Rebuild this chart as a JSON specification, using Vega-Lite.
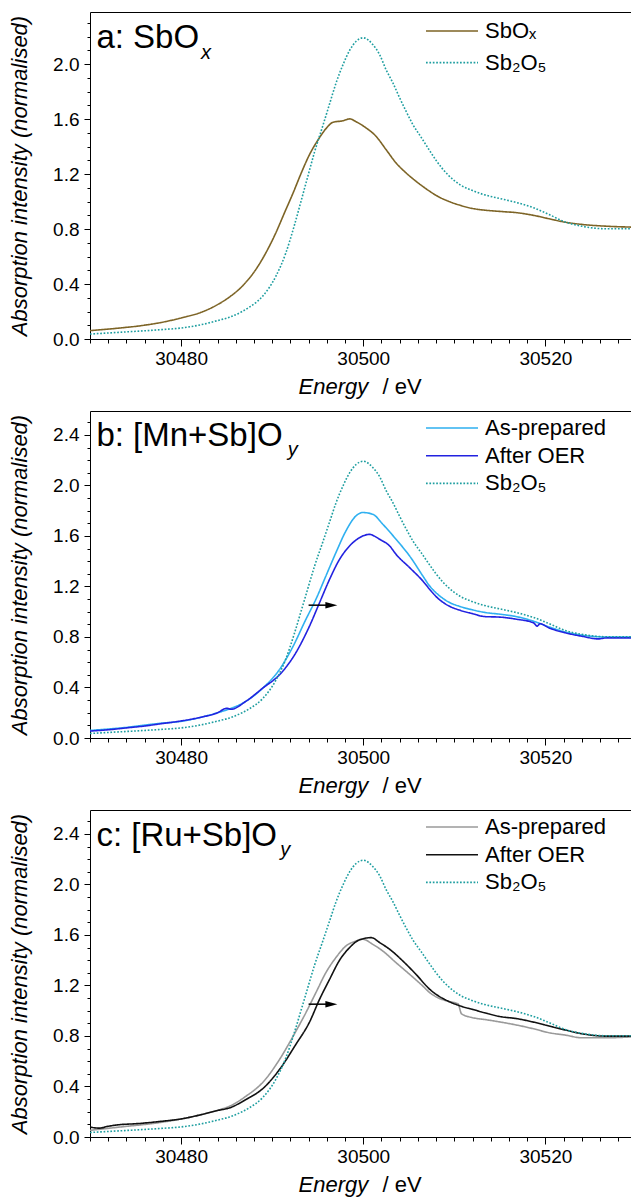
{
  "$schema": "https://vega.github.io/schema/vega-lite/v6.json",
  "padding": {"left": 8, "top": 12, "right": 0, "bottom": 4},
  "config": {
    "view": {"stroke": null},
    "font": "Liberation Sans",
    "axis": {"grid": false, "domainColor": "#000", "tickColor": "#000", "labelColor": "#000", "titleColor": "#000", "labelFont": "Liberation Sans", "titleFont": "Liberation Sans", "labelFontSize": 19, "titleFontSize": 22, "titleFontWeight": "normal", "domainWidth": 1, "tickWidth": 1, "labelOverlap": false},
    "legend": {"labelFont": "Liberation Sans", "labelFontSize": 22, "labelColor": "#000"},
    "text": {"font": "Liberation Sans", "color": "#000"}
  },
  "datasets": {
    "sb2o5": [
      {"E": 30470, "v": 0.036, "s": "Sb₂O₅"}, {"E": 30473.3, "v": 0.049, "s": "Sb₂O₅"}, {"E": 30477.8, "v": 0.068, "s": "Sb₂O₅"}, {"E": 30480, "v": 0.08, "s": "Sb₂O₅"}, {"E": 30482.2, "v": 0.104, "s": "Sb₂O₅"}, {"E": 30484.4, "v": 0.141, "s": "Sb₂O₅"}, {"E": 30485.3, "v": 0.158, "s": "Sb₂O₅"}, {"E": 30486.7, "v": 0.2, "s": "Sb₂O₅"}, {"E": 30487.5, "v": 0.232, "s": "Sb₂O₅"}, {"E": 30489.0, "v": 0.315, "s": "Sb₂O₅"}, {"E": 30490.4, "v": 0.456, "s": "Sb₂O₅"}, {"E": 30491.5, "v": 0.626, "s": "Sb₂O₅"}, {"E": 30492.45, "v": 0.83, "s": "Sb₂O₅"}, {"E": 30493.2, "v": 1.01, "s": "Sb₂O₅"}, {"E": 30493.9, "v": 1.18, "s": "Sb₂O₅"}, {"E": 30494.65, "v": 1.36, "s": "Sb₂O₅"}, {"E": 30495.6, "v": 1.56, "s": "Sb₂O₅"}, {"E": 30496.3, "v": 1.71, "s": "Sb₂O₅"}, {"E": 30497.0, "v": 1.86, "s": "Sb₂O₅"}, {"E": 30497.8, "v": 2.0, "s": "Sb₂O₅"}, {"E": 30498.5, "v": 2.1, "s": "Sb₂O₅"}, {"E": 30499.2, "v": 2.165, "s": "Sb₂O₅"}, {"E": 30500.0, "v": 2.192, "s": "Sb₂O₅"}, {"E": 30501.05, "v": 2.143, "s": "Sb₂O₅"}, {"E": 30501.8, "v": 2.07, "s": "Sb₂O₅"}, {"E": 30502.5, "v": 1.961, "s": "Sb₂O₅"}, {"E": 30503.25, "v": 1.865, "s": "Sb₂O₅"}, {"E": 30504.0, "v": 1.755, "s": "Sb₂O₅"}, {"E": 30504.7, "v": 1.658, "s": "Sb₂O₅"}, {"E": 30505.45, "v": 1.561, "s": "Sb₂O₅"}, {"E": 30506.4, "v": 1.464, "s": "Sb₂O₅"}, {"E": 30507.3, "v": 1.37, "s": "Sb₂O₅"}, {"E": 30508, "v": 1.3, "s": "Sb₂O₅"}, {"E": 30509.3, "v": 1.195, "s": "Sb₂O₅"}, {"E": 30510.7, "v": 1.12, "s": "Sb₂O₅"}, {"E": 30512, "v": 1.08, "s": "Sb₂O₅"}, {"E": 30513.3, "v": 1.05, "s": "Sb₂O₅"}, {"E": 30515.1, "v": 1.021, "s": "Sb₂O₅"}, {"E": 30516.9, "v": 0.992, "s": "Sb₂O₅"}, {"E": 30518.7, "v": 0.955, "s": "Sb₂O₅"}, {"E": 30520.4, "v": 0.906, "s": "Sb₂O₅"}, {"E": 30522.2, "v": 0.851, "s": "Sb₂O₅"}, {"E": 30524, "v": 0.821, "s": "Sb₂O₅"}, {"E": 30526.7, "v": 0.802, "s": "Sb₂O₅"}, {"E": 30529.7, "v": 0.802, "s": "Sb₂O₅"}
    ],
    "a": [
      {"E": 30470, "v": 0.061, "s": "SbOₓ"}, {"E": 30473.3, "v": 0.08, "s": "SbOₓ"}, {"E": 30475.6, "v": 0.097, "s": "SbOₓ"}, {"E": 30477.8, "v": 0.12, "s": "SbOₓ"}, {"E": 30480, "v": 0.153, "s": "SbOₓ"}, {"E": 30482.2, "v": 0.194, "s": "SbOₓ"}, {"E": 30484, "v": 0.25, "s": "SbOₓ"}, {"E": 30485.3, "v": 0.305, "s": "SbOₓ"}, {"E": 30486.8, "v": 0.39, "s": "SbOₓ"}, {"E": 30488.2, "v": 0.505, "s": "SbOₓ"}, {"E": 30489.3, "v": 0.626, "s": "SbOₓ"}, {"E": 30490.4, "v": 0.772, "s": "SbOₓ"}, {"E": 30491.35, "v": 0.918, "s": "SbOₓ"}, {"E": 30492.3, "v": 1.063, "s": "SbOₓ"}, {"E": 30493.2, "v": 1.209, "s": "SbOₓ"}, {"E": 30494.1, "v": 1.342, "s": "SbOₓ"}, {"E": 30495, "v": 1.445, "s": "SbOₓ"}, {"E": 30495.9, "v": 1.53, "s": "SbOₓ"}, {"E": 30496.7, "v": 1.578, "s": "SbOₓ"}, {"E": 30497.75, "v": 1.588, "s": "SbOₓ"}, {"E": 30498.5, "v": 1.602, "s": "SbOₓ"}, {"E": 30499.2, "v": 1.582, "s": "SbOₓ"}, {"E": 30500.3, "v": 1.537, "s": "SbOₓ"}, {"E": 30501.4, "v": 1.476, "s": "SbOₓ"}, {"E": 30502.5, "v": 1.379, "s": "SbOₓ"}, {"E": 30503.6, "v": 1.282, "s": "SbOₓ"}, {"E": 30504.7, "v": 1.209, "s": "SbOₓ"}, {"E": 30505.8, "v": 1.148, "s": "SbOₓ"}, {"E": 30507.3, "v": 1.075, "s": "SbOₓ"}, {"E": 30508, "v": 1.045, "s": "SbOₓ"}, {"E": 30509.3, "v": 1.004, "s": "SbOₓ"}, {"E": 30510.7, "v": 0.972, "s": "SbOₓ"}, {"E": 30512, "v": 0.95, "s": "SbOₓ"}, {"E": 30513.3, "v": 0.938, "s": "SbOₓ"}, {"E": 30515.1, "v": 0.928, "s": "SbOₓ"}, {"E": 30516.9, "v": 0.919, "s": "SbOₓ"}, {"E": 30518.7, "v": 0.9, "s": "SbOₓ"}, {"E": 30520.4, "v": 0.875, "s": "SbOₓ"}, {"E": 30522.2, "v": 0.85, "s": "SbOₓ"}, {"E": 30524, "v": 0.834, "s": "SbOₓ"}, {"E": 30526.7, "v": 0.821, "s": "SbOₓ"}, {"E": 30529.7, "v": 0.814, "s": "SbOₓ"}
    ],
    "b": [
      {"E": 30470, "v": 0.06, "s": "As-prepared"}, {"E": 30473.3, "v": 0.079, "s": "As-prepared"}, {"E": 30477.8, "v": 0.117, "s": "As-prepared"}, {"E": 30480, "v": 0.132, "s": "As-prepared"}, {"E": 30482.2, "v": 0.164, "s": "As-prepared"}, {"E": 30484, "v": 0.2, "s": "As-prepared"}, {"E": 30485.3, "v": 0.23, "s": "As-prepared"}, {"E": 30487.1, "v": 0.29, "s": "As-prepared"}, {"E": 30489.0, "v": 0.397, "s": "As-prepared"}, {"E": 30490.8, "v": 0.542, "s": "As-prepared"}, {"E": 30492.3, "v": 0.727, "s": "As-prepared"}, {"E": 30493.7, "v": 0.939, "s": "As-prepared"}, {"E": 30494.8, "v": 1.098, "s": "As-prepared"}, {"E": 30495.9, "v": 1.283, "s": "As-prepared"}, {"E": 30497.0, "v": 1.468, "s": "As-prepared"}, {"E": 30498.1, "v": 1.64, "s": "As-prepared"}, {"E": 30499.2, "v": 1.759, "s": "As-prepared"}, {"E": 30499.95, "v": 1.786, "s": "As-prepared"}, {"E": 30501.05, "v": 1.772, "s": "As-prepared"}, {"E": 30502.15, "v": 1.693, "s": "As-prepared"}, {"E": 30503.6, "v": 1.574, "s": "As-prepared"}, {"E": 30505.1, "v": 1.441, "s": "As-prepared"}, {"E": 30506.55, "v": 1.283, "s": "As-prepared"}, {"E": 30507.3, "v": 1.203, "s": "As-prepared"}, {"E": 30508, "v": 1.15, "s": "As-prepared"}, {"E": 30509.3, "v": 1.08, "s": "As-prepared"}, {"E": 30510.7, "v": 1.04, "s": "As-prepared"}, {"E": 30512, "v": 1.015, "s": "As-prepared"}, {"E": 30513.3, "v": 0.995, "s": "As-prepared"}, {"E": 30515.1, "v": 0.98, "s": "As-prepared"}, {"E": 30516.9, "v": 0.96, "s": "As-prepared"}, {"E": 30518.7, "v": 0.925, "s": "As-prepared"}, {"E": 30520.4, "v": 0.88, "s": "As-prepared"}, {"E": 30522.2, "v": 0.84, "s": "As-prepared"}, {"E": 30524, "v": 0.815, "s": "As-prepared"}, {"E": 30526.7, "v": 0.8, "s": "As-prepared"}, {"E": 30529.7, "v": 0.8, "s": "As-prepared"},
      {"E": 30470, "v": 0.055, "s": "After OER"}, {"E": 30472, "v": 0.065, "s": "After OER"}, {"E": 30474, "v": 0.08, "s": "After OER"}, {"E": 30476, "v": 0.095, "s": "After OER"}, {"E": 30478, "v": 0.115, "s": "After OER"}, {"E": 30480, "v": 0.135, "s": "After OER"}, {"E": 30482.2, "v": 0.165, "s": "After OER"}, {"E": 30484, "v": 0.2, "s": "After OER"}, {"E": 30485, "v": 0.235, "s": "After OER"}, {"E": 30485.5, "v": 0.228, "s": "After OER"}, {"E": 30487.1, "v": 0.29, "s": "After OER"}, {"E": 30489.0, "v": 0.397, "s": "After OER"}, {"E": 30490.8, "v": 0.5, "s": "After OER"}, {"E": 30492.6, "v": 0.675, "s": "After OER"}, {"E": 30494.1, "v": 0.886, "s": "After OER"}, {"E": 30495.2, "v": 1.071, "s": "After OER"}, {"E": 30496.3, "v": 1.256, "s": "After OER"}, {"E": 30497.4, "v": 1.415, "s": "After OER"}, {"E": 30498.5, "v": 1.521, "s": "After OER"}, {"E": 30499.6, "v": 1.587, "s": "After OER"}, {"E": 30500.7, "v": 1.613, "s": "After OER"}, {"E": 30501.2, "v": 1.6, "s": "After OER"}, {"E": 30501.8, "v": 1.574, "s": "After OER"}, {"E": 30502.9, "v": 1.521, "s": "After OER"}, {"E": 30503.6, "v": 1.455, "s": "After OER"}, {"E": 30505.1, "v": 1.349, "s": "After OER"}, {"E": 30506.55, "v": 1.243, "s": "After OER"}, {"E": 30507.3, "v": 1.177, "s": "After OER"}, {"E": 30508, "v": 1.12, "s": "After OER"}, {"E": 30509.3, "v": 1.05, "s": "After OER"}, {"E": 30510.7, "v": 1.01, "s": "After OER"}, {"E": 30512, "v": 0.985, "s": "After OER"}, {"E": 30513.3, "v": 0.962, "s": "After OER"}, {"E": 30515.1, "v": 0.957, "s": "After OER"}, {"E": 30516.9, "v": 0.94, "s": "After OER"}, {"E": 30518.7, "v": 0.912, "s": "After OER"}, {"E": 30519.1, "v": 0.886, "s": "After OER"}, {"E": 30519.4, "v": 0.905, "s": "After OER"}, {"E": 30520.4, "v": 0.872, "s": "After OER"}, {"E": 30522.2, "v": 0.833, "s": "After OER"}, {"E": 30524, "v": 0.806, "s": "After OER"}, {"E": 30525.8, "v": 0.785, "s": "After OER"}, {"E": 30526.7, "v": 0.793, "s": "After OER"}, {"E": 30529.7, "v": 0.793, "s": "After OER"}
    ],
    "c": [
      {"E": 30470, "v": 0.053, "s": "As-prepared"}, {"E": 30473.3, "v": 0.079, "s": "As-prepared"}, {"E": 30477.8, "v": 0.116, "s": "As-prepared"}, {"E": 30480, "v": 0.143, "s": "As-prepared"}, {"E": 30482.2, "v": 0.177, "s": "As-prepared"}, {"E": 30484.4, "v": 0.22, "s": "As-prepared"}, {"E": 30485.3, "v": 0.243, "s": "As-prepared"}, {"E": 30487.1, "v": 0.322, "s": "As-prepared"}, {"E": 30489.0, "v": 0.435, "s": "As-prepared"}, {"E": 30490.8, "v": 0.613, "s": "As-prepared"}, {"E": 30492.3, "v": 0.798, "s": "As-prepared"}, {"E": 30493.7, "v": 0.984, "s": "As-prepared"}, {"E": 30494.8, "v": 1.143, "s": "As-prepared"}, {"E": 30495.9, "v": 1.302, "s": "As-prepared"}, {"E": 30497.0, "v": 1.421, "s": "As-prepared"}, {"E": 30498.1, "v": 1.513, "s": "As-prepared"}, {"E": 30499.2, "v": 1.552, "s": "As-prepared"}, {"E": 30499.95, "v": 1.566, "s": "As-prepared"}, {"E": 30501.05, "v": 1.526, "s": "As-prepared"}, {"E": 30502.15, "v": 1.473, "s": "As-prepared"}, {"E": 30503.6, "v": 1.381, "s": "As-prepared"}, {"E": 30505.1, "v": 1.288, "s": "As-prepared"}, {"E": 30506.55, "v": 1.195, "s": "As-prepared"}, {"E": 30507.3, "v": 1.143, "s": "As-prepared"}, {"E": 30508, "v": 1.11, "s": "As-prepared"}, {"E": 30509.3, "v": 1.075, "s": "As-prepared"}, {"E": 30510.4, "v": 1.055, "s": "As-prepared"}, {"E": 30510.8, "v": 0.975, "s": "As-prepared"}, {"E": 30512, "v": 0.945, "s": "As-prepared"}, {"E": 30513.3, "v": 0.931, "s": "As-prepared"}, {"E": 30515.1, "v": 0.91, "s": "As-prepared"}, {"E": 30516.9, "v": 0.886, "s": "As-prepared"}, {"E": 30518.7, "v": 0.857, "s": "As-prepared"}, {"E": 30520.4, "v": 0.826, "s": "As-prepared"}, {"E": 30522.2, "v": 0.807, "s": "As-prepared"}, {"E": 30524, "v": 0.786, "s": "As-prepared"}, {"E": 30526.7, "v": 0.786, "s": "As-prepared"}, {"E": 30529.7, "v": 0.794, "s": "As-prepared"},
      {"E": 30470, "v": 0.079, "s": "After OER"}, {"E": 30471, "v": 0.07, "s": "After OER"}, {"E": 30472, "v": 0.085, "s": "After OER"}, {"E": 30473.3, "v": 0.098, "s": "After OER"}, {"E": 30475, "v": 0.105, "s": "After OER"}, {"E": 30477.8, "v": 0.124, "s": "After OER"}, {"E": 30480, "v": 0.143, "s": "After OER"}, {"E": 30482.2, "v": 0.177, "s": "After OER"}, {"E": 30484, "v": 0.21, "s": "After OER"}, {"E": 30485.3, "v": 0.23, "s": "After OER"}, {"E": 30487.1, "v": 0.296, "s": "After OER"}, {"E": 30489.0, "v": 0.385, "s": "After OER"}, {"E": 30490.8, "v": 0.534, "s": "After OER"}, {"E": 30492.6, "v": 0.733, "s": "After OER"}, {"E": 30494.1, "v": 0.91, "s": "After OER"}, {"E": 30495.2, "v": 1.09, "s": "After OER"}, {"E": 30496.3, "v": 1.248, "s": "After OER"}, {"E": 30497.4, "v": 1.4, "s": "After OER"}, {"E": 30498.5, "v": 1.5, "s": "After OER"}, {"E": 30499.6, "v": 1.562, "s": "After OER"}, {"E": 30500.9, "v": 1.579, "s": "After OER"}, {"E": 30501.8, "v": 1.54, "s": "After OER"}, {"E": 30502.9, "v": 1.487, "s": "After OER"}, {"E": 30504.35, "v": 1.394, "s": "After OER"}, {"E": 30505.8, "v": 1.288, "s": "After OER"}, {"E": 30507.3, "v": 1.17, "s": "After OER"}, {"E": 30508, "v": 1.13, "s": "After OER"}, {"E": 30509.3, "v": 1.077, "s": "After OER"}, {"E": 30510.7, "v": 1.037, "s": "After OER"}, {"E": 30512, "v": 1.011, "s": "After OER"}, {"E": 30513.3, "v": 0.984, "s": "After OER"}, {"E": 30515.1, "v": 0.953, "s": "After OER"}, {"E": 30516.9, "v": 0.937, "s": "After OER"}, {"E": 30518.7, "v": 0.91, "s": "After OER"}, {"E": 30520.4, "v": 0.879, "s": "After OER"}, {"E": 30522.2, "v": 0.847, "s": "After OER"}, {"E": 30524, "v": 0.818, "s": "After OER"}, {"E": 30526.7, "v": 0.799, "s": "After OER"}, {"E": 30529.7, "v": 0.799, "s": "After OER"}
    ],
    "arrow": [{"start": 30494.0, "end": 30496.1, "head": 30496.5, "level": 1.052}]
  },
  "spacing": 14,
  "resolve": {"scale": {"x": "independent", "y": "independent", "color": "independent", "strokeDash": "independent"}, "legend": {"color": "independent", "strokeDash": "independent"}},
  "vconcat": [
    {
      "width": 541, "height": 327,
      "resolve": {"axis": {"x": "independent", "y": "independent"}},
      "layer": [
        {
          "data": {"name": "a"},
          "mark": {"type": "line", "clip": true, "strokeWidth": 1.6, "interpolate": "monotone"},
          "encoding": {
            "x": {"field": "E", "type": "quantitative", "scale": {"domain": [30470, 30529.4], "nice": false, "zero": false},
              "axis": {"orient": "bottom", "values": [30470, 30472, 30474, 30476, 30478, 30480, 30482, 30484, 30486, 30488, 30490, 30492, 30494, 30496, 30498, 30500, 30502, 30504, 30506, 30508, 30510, 30512, 30514, 30516, 30518, 30520, 30522, 30524, 30526, 30528], "format": "d", "labelExpr": "datum.value % 20 === 0 ? datum.label : ''", "tickSize": {"condition": {"test": "datum.value % 20 === 0", "value": 7}, "value": 4}, "labelPadding": 3, "labelFlush": false, "title": "Energy", "titleFontStyle": "italic", "titleX": 208, "titleY": 54, "titleAlign": "left", "titleBaseline": "alphabetic", "titleAnchor": "start"}},
            "y": {"field": "v", "type": "quantitative", "scale": {"domain": [0, 2.38], "nice": false},
              "axis": {"orient": "left", "values": [0, 0.1, 0.2, 0.3, 0.4, 0.5, 0.6, 0.7, 0.8, 0.9, 1.0, 1.1, 1.2, 1.3, 1.4, 1.5, 1.6, 1.7, 1.8, 1.9, 2.0, 2.1, 2.2, 2.3], "labelExpr": "round(datum.value * 10) % 4 === 0 ? format(datum.value, '.1f') : ''", "tickSize": {"condition": {"test": "round(datum.value * 10) % 4 === 0", "value": 6}, "value": 3}, "labelPadding": 5, "labelFlush": false, "title": "Absorption intensity (normalised)", "titleFontStyle": "italic", "titlePadding": 21}},
            "color": {"field": "s", "type": "nominal", "scale": {"domain": ["SbOₓ", "Sb₂O₅"], "range": ["#7d6426", "#1e9ea0"]},
              "legend": {"orient": "none", "legendX": 335, "legendY": 8, "title": null, "symbolType": "stroke", "symbolSize": 2704, "symbolStrokeWidth": 1.6, "clipHeight": 22, "rowPadding": 9.6, "labelOffset": 6, "padding": 0}},
            "strokeDash": {"field": "s", "type": "nominal", "scale": {"domain": ["SbOₓ", "Sb₂O₅"], "range": [[1, 0], [1.7, 1.7]]},
              "legend": {"orient": "none", "legendX": 335, "legendY": 8, "title": null, "symbolType": "stroke", "symbolSize": 2704, "symbolStrokeWidth": 1.6, "clipHeight": 22, "rowPadding": 9.6, "labelOffset": 6, "padding": 0}}
          }
        },
        {
          "data": {"name": "sb2o5"},
          "mark": {"type": "line", "clip": true, "strokeWidth": 1.6, "interpolate": "monotone"},
          "encoding": {
            "x": {"field": "E", "type": "quantitative",
              "axis": {"orient": "bottom", "ticks": false, "labels": false, "domain": false, "title": "/ eV", "titleFontStyle": "normal", "titleX": 292, "titleY": 54, "titleAlign": "left", "titleBaseline": "alphabetic", "titleAnchor": "start"}},
            "y": {"field": "v", "type": "quantitative", "axis": null},
            "color": {"field": "s", "type": "nominal"},
            "strokeDash": {"field": "s", "type": "nominal"}
          }
        },
        {
          "data": {"values": [{}]},
          "mark": {"type": "text", "text": "a: SbO", "fontSize": 33, "align": "left", "baseline": "alphabetic"},
          "encoding": {
            "x": {"datum": 30470.7, "type": "quantitative", "axis": {"orient": "top", "ticks": false, "labels": false, "domain": true, "title": null}},
            "y": {"datum": 2.119, "type": "quantitative", "axis": null}
          }
        },
        {
          "data": {"values": [{}]},
          "mark": {"type": "text", "text": "x", "fontSize": 20, "fontStyle": "italic", "align": "left", "baseline": "alphabetic"},
          "encoding": {
            "x": {"datum": 30482.2, "type": "quantitative", "axis": null},
            "y": {"datum": 2.039, "type": "quantitative", "axis": null}
          }
        }
      ]
    },
    {
      "width": 541, "height": 327,
      "resolve": {"axis": {"x": "independent", "y": "independent"}},
      "layer": [
        {
          "data": {"name": "b"},
          "mark": {"type": "line", "clip": true, "strokeWidth": 1.6, "interpolate": "monotone"},
          "encoding": {
            "x": {"field": "E", "type": "quantitative", "scale": {"domain": [30470, 30529.4], "nice": false, "zero": false},
              "axis": {"orient": "bottom", "values": [30470, 30472, 30474, 30476, 30478, 30480, 30482, 30484, 30486, 30488, 30490, 30492, 30494, 30496, 30498, 30500, 30502, 30504, 30506, 30508, 30510, 30512, 30514, 30516, 30518, 30520, 30522, 30524, 30526, 30528], "format": "d", "labelExpr": "datum.value % 20 === 0 ? datum.label : ''", "tickSize": {"condition": {"test": "datum.value % 20 === 0", "value": 7}, "value": 4}, "labelPadding": 3, "labelFlush": false, "title": "Energy", "titleFontStyle": "italic", "titleX": 208, "titleY": 54, "titleAlign": "left", "titleBaseline": "alphabetic", "titleAnchor": "start"}},
            "y": {"field": "v", "type": "quantitative", "scale": {"domain": [0, 2.59], "nice": false},
              "axis": {"orient": "left", "values": [0, 0.1, 0.2, 0.3, 0.4, 0.5, 0.6, 0.7, 0.8, 0.9, 1.0, 1.1, 1.2, 1.3, 1.4, 1.5, 1.6, 1.7, 1.8, 1.9, 2.0, 2.1, 2.2, 2.3, 2.4, 2.5], "labelExpr": "round(datum.value * 10) % 4 === 0 ? format(datum.value, '.1f') : ''", "tickSize": {"condition": {"test": "round(datum.value * 10) % 4 === 0", "value": 6}, "value": 3}, "labelPadding": 5, "labelFlush": false, "title": "Absorption intensity (normalised)", "titleFontStyle": "italic", "titlePadding": 21}},
            "color": {"field": "s", "type": "nominal", "scale": {"domain": ["As-prepared", "After OER", "Sb₂O₅"], "range": ["#2fb0f0", "#2222e0", "#1e9ea0"]},
              "legend": {"orient": "none", "legendX": 335, "legendY": 6, "title": null, "symbolType": "stroke", "symbolSize": 2704, "symbolStrokeWidth": 1.6, "clipHeight": 22, "rowPadding": 5.7, "labelOffset": 6, "padding": 0}},
            "strokeDash": {"field": "s", "type": "nominal", "scale": {"domain": ["As-prepared", "After OER", "Sb₂O₅"], "range": [[1, 0], [1, 0], [1.7, 1.7]]},
              "legend": {"orient": "none", "legendX": 335, "legendY": 6, "title": null, "symbolType": "stroke", "symbolSize": 2704, "symbolStrokeWidth": 1.6, "clipHeight": 22, "rowPadding": 5.7, "labelOffset": 6, "padding": 0}}
          }
        },
        {
          "data": {"name": "sb2o5"},
          "mark": {"type": "line", "clip": true, "strokeWidth": 1.6, "interpolate": "monotone"},
          "encoding": {
            "x": {"field": "E", "type": "quantitative",
              "axis": {"orient": "bottom", "ticks": false, "labels": false, "domain": false, "title": "/ eV", "titleFontStyle": "normal", "titleX": 292, "titleY": 54, "titleAlign": "left", "titleBaseline": "alphabetic", "titleAnchor": "start"}},
            "y": {"field": "v", "type": "quantitative", "axis": null},
            "color": {"field": "s", "type": "nominal"},
            "strokeDash": {"field": "s", "type": "nominal"}
          }
        },
        {
          "data": {"name": "arrow"},
          "mark": {"type": "rule", "color": "#000", "strokeWidth": 1.5},
          "encoding": {
            "x": {"field": "start", "type": "quantitative", "axis": null},
            "x2": {"field": "end"},
            "y": {"field": "level", "type": "quantitative", "axis": null}
          }
        },
        {
          "data": {"name": "arrow"},
          "mark": {"type": "point", "shape": "M-1,-0.55L1,0L-1,0.55Z", "size": 144, "filled": true, "color": "#000", "opacity": 1},
          "encoding": {
            "x": {"field": "head", "type": "quantitative", "axis": null},
            "y": {"field": "level", "type": "quantitative", "axis": null}
          }
        },
        {
          "data": {"values": [{}]},
          "mark": {"type": "text", "text": "b: [Mn+Sb]O", "fontSize": 33, "align": "left", "baseline": "alphabetic"},
          "encoding": {
            "x": {"datum": 30470.7, "type": "quantitative", "axis": {"orient": "top", "ticks": false, "labels": false, "domain": true, "title": null}},
            "y": {"datum": 2.314, "type": "quantitative", "axis": null}
          }
        },
        {
          "data": {"values": [{}]},
          "mark": {"type": "text", "text": "y", "fontSize": 20, "fontStyle": "italic", "align": "left", "baseline": "alphabetic"},
          "encoding": {
            "x": {"datum": 30491.7, "type": "quantitative", "axis": null},
            "y": {"datum": 2.233, "type": "quantitative", "axis": null}
          }
        }
      ]
    },
    {
      "width": 541, "height": 327,
      "resolve": {"axis": {"x": "independent", "y": "independent"}},
      "layer": [
        {
          "data": {"name": "c"},
          "mark": {"type": "line", "clip": true, "strokeWidth": 1.6, "interpolate": "monotone"},
          "encoding": {
            "x": {"field": "E", "type": "quantitative", "scale": {"domain": [30470, 30529.4], "nice": false, "zero": false},
              "axis": {"orient": "bottom", "values": [30470, 30472, 30474, 30476, 30478, 30480, 30482, 30484, 30486, 30488, 30490, 30492, 30494, 30496, 30498, 30500, 30502, 30504, 30506, 30508, 30510, 30512, 30514, 30516, 30518, 30520, 30522, 30524, 30526, 30528], "format": "d", "labelExpr": "datum.value % 20 === 0 ? datum.label : ''", "tickSize": {"condition": {"test": "datum.value % 20 === 0", "value": 7}, "value": 4}, "labelPadding": 3, "labelFlush": false, "title": "Energy", "titleFontStyle": "italic", "titleX": 208, "titleY": 54, "titleAlign": "left", "titleBaseline": "alphabetic", "titleAnchor": "start"}},
            "y": {"field": "v", "type": "quantitative", "scale": {"domain": [0, 2.59], "nice": false},
              "axis": {"orient": "left", "values": [0, 0.1, 0.2, 0.3, 0.4, 0.5, 0.6, 0.7, 0.8, 0.9, 1.0, 1.1, 1.2, 1.3, 1.4, 1.5, 1.6, 1.7, 1.8, 1.9, 2.0, 2.1, 2.2, 2.3, 2.4, 2.5], "labelExpr": "round(datum.value * 10) % 4 === 0 ? format(datum.value, '.1f') : ''", "tickSize": {"condition": {"test": "round(datum.value * 10) % 4 === 0", "value": 6}, "value": 3}, "labelPadding": 5, "labelFlush": false, "title": "Absorption intensity (normalised)", "titleFontStyle": "italic", "titlePadding": 21}},
            "color": {"field": "s", "type": "nominal", "scale": {"domain": ["As-prepared", "After OER", "Sb₂O₅"], "range": ["#9a9a9a", "#111111", "#1e9ea0"]},
              "legend": {"orient": "none", "legendX": 335, "legendY": 6, "title": null, "symbolType": "stroke", "symbolSize": 2704, "symbolStrokeWidth": 1.6, "clipHeight": 22, "rowPadding": 5.7, "labelOffset": 6, "padding": 0}},
            "strokeDash": {"field": "s", "type": "nominal", "scale": {"domain": ["As-prepared", "After OER", "Sb₂O₅"], "range": [[1, 0], [1, 0], [1.7, 1.7]]},
              "legend": {"orient": "none", "legendX": 335, "legendY": 6, "title": null, "symbolType": "stroke", "symbolSize": 2704, "symbolStrokeWidth": 1.6, "clipHeight": 22, "rowPadding": 5.7, "labelOffset": 6, "padding": 0}}
          }
        },
        {
          "data": {"name": "sb2o5"},
          "mark": {"type": "line", "clip": true, "strokeWidth": 1.6, "interpolate": "monotone"},
          "encoding": {
            "x": {"field": "E", "type": "quantitative",
              "axis": {"orient": "bottom", "ticks": false, "labels": false, "domain": false, "title": "/ eV", "titleFontStyle": "normal", "titleX": 292, "titleY": 54, "titleAlign": "left", "titleBaseline": "alphabetic", "titleAnchor": "start"}},
            "y": {"field": "v", "type": "quantitative", "axis": null},
            "color": {"field": "s", "type": "nominal"},
            "strokeDash": {"field": "s", "type": "nominal"}
          }
        },
        {
          "data": {"name": "arrow"},
          "mark": {"type": "rule", "color": "#000", "strokeWidth": 1.5},
          "encoding": {
            "x": {"field": "start", "type": "quantitative", "axis": null},
            "x2": {"field": "end"},
            "y": {"field": "level", "type": "quantitative", "axis": null}
          }
        },
        {
          "data": {"name": "arrow"},
          "mark": {"type": "point", "shape": "M-1,-0.55L1,0L-1,0.55Z", "size": 144, "filled": true, "color": "#000", "opacity": 1},
          "encoding": {
            "x": {"field": "head", "type": "quantitative", "axis": null},
            "y": {"field": "level", "type": "quantitative", "axis": null}
          }
        },
        {
          "data": {"values": [{}]},
          "mark": {"type": "text", "text": "c: [Ru+Sb]O", "fontSize": 33, "align": "left", "baseline": "alphabetic"},
          "encoding": {
            "x": {"datum": 30470.7, "type": "quantitative", "axis": {"orient": "top", "ticks": false, "labels": false, "domain": true, "title": null}},
            "y": {"datum": 2.306, "type": "quantitative", "axis": null}
          }
        },
        {
          "data": {"values": [{}]},
          "mark": {"type": "text", "text": "y", "fontSize": 20, "fontStyle": "italic", "align": "left", "baseline": "alphabetic"},
          "encoding": {
            "x": {"datum": 30490.9, "type": "quantitative", "axis": null},
            "y": {"datum": 2.225, "type": "quantitative", "axis": null}
          }
        }
      ]
    }
  ]
}
